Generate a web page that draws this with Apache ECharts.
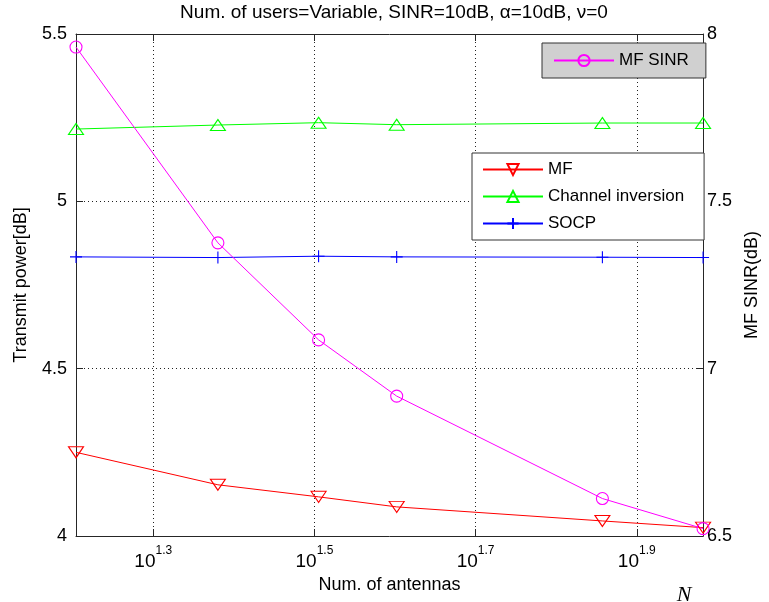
<!DOCTYPE html>
<html>
<head>
<meta charset="utf-8">
<script src="https://cdn.jsdelivr.net/npm/echarts@6/dist/echarts.min.js"></script>
<style>
  html, body { margin: 0; padding: 0; background: #fff; }
  #chart { width: 769px; height: 602px; }
</style>
</head>
<body>
<div id="chart"></div>
<script>
// Number of antennas at which each scheme was evaluated
const antennas = [16, 24, 32, 40, 72, 96];

// Transmit power [dB] for each precoding scheme (left axis)
const mfPower = [4.25, 4.153, 4.117, 4.087, 4.045, 4.025];
const channelInversionPower = [5.216, 5.228, 5.235, 5.229, 5.234, 5.234];
const socpPower = [4.834, 4.832, 4.836, 4.834, 4.833, 4.832];

// Achieved MF SINR [dB] (right axis)
const mfSinr = [7.961, 7.376, 7.086, 6.918, 6.612, 6.522];

// Axis ranges and tick positions (x ticks given as powers of ten)
const xRange = [16, 96];
const xTickExponents = [1.3, 1.5, 1.7, 1.9];
const powerRange = [4, 5.5];
const sinrRange = [6.5, 8];
const yStep = 0.5;

const FONT = 'Liberation Sans, Arial, sans-serif';
const INK = '#262626';

const pairs = (ys) => antennas.map((n, i) => [n, ys[i]]);

const chart = echarts.init(document.getElementById('chart'), null, { renderer: 'canvas' });

const logMin = Math.log10(xRange[0]);
const logMax = Math.log10(xRange[1]);

function hollowLine(name, color, values, symbol, size, yAxisIndex, rotate) {
  return {
    name: name,
    type: 'line',
    xAxisIndex: 0,
    yAxisIndex: yAxisIndex,
    data: pairs(values),
    symbol: symbol,
    symbolSize: size,
    symbolRotate: rotate || 0,
    showAllSymbol: true,
    clip: false,
    lineStyle: { color: color, width: 1 },
    itemStyle: { color: 'rgba(0,0,0,0)', borderColor: color, borderWidth: 1.1 },
    emphasis: { disabled: true },
    z: 3
  };
}

const option = {
  animation: false,
  backgroundColor: '#fff',
  textStyle: { fontFamily: FONT, color: '#000' },
  grid: { left: 76, right: 55, top: 34, bottom: 66 },
  graphic: [
    {
      type: 'text',
      x: 394, y: 13,
      style: {
        text: 'Num. of users=Variable, SINR=10dB, α=10dB, ν=0',
        font: '19px ' + FONT,
        fill: '#000',
        align: 'center',
        verticalAlign: 'middle'
      }
    },
    {
      type: 'text',
      x: 684, y: 595,
      style: {
        text: 'N',
        font: 'italic 22px "Liberation Serif", "DejaVu Serif", serif',
        fill: '#000',
        align: 'center',
        verticalAlign: 'middle'
      }
    }
  ],
  legend: [
    {
      data: ['MF SINR'],
      left: 542, top: 43,
      orient: 'vertical',
      padding: [9, 17, 9, 11],
      backgroundColor: '#d0d0d0',
      borderColor: '#333',
      borderWidth: 1,
      itemWidth: 60, itemHeight: 14,
      textStyle: { fontFamily: FONT, fontSize: 17, color: '#000', lineHeight: 17 },
      selectedMode: false
    },
    {
      data: ['MF', 'Channel inversion', 'SOCP'],
      left: 472, top: 153,
      orient: 'vertical',
      padding: [8, 20, 8, 10],
      itemGap: 10,
      backgroundColor: '#fff',
      borderColor: '#333',
      borderWidth: 1,
      itemWidth: 60, itemHeight: 14,
      textStyle: { fontFamily: FONT, fontSize: 17, color: '#000', lineHeight: 17 },
      selectedMode: false
    }
  ],
  xAxis: [
    {
      // logarithmic scale used to place the data
      type: 'log', logBase: 10,
      min: xRange[0], max: xRange[1],
      show: false
    },
    {
      // decade-exponent scale carrying the 10^x tick marks and labels
      type: 'value', position: 'bottom',
      min: logMin, max: logMax,
      axisLine: { show: true, onZero: false, lineStyle: { color: INK, width: 1 } },
      axisTick: { show: true, inside: true, length: 7, customValues: xTickExponents, lineStyle: { color: INK } },
      axisLabel: {
        customValues: xTickExponents,
        margin: 9,
        formatter: (v) => '{b|10}{s|' + Number(v).toFixed(1) + '}',
        rich: {
          b: { fontFamily: FONT, fontSize: 19, lineHeight: 26, verticalAlign: 'bottom', color: '#000' },
          s: { fontFamily: FONT, fontSize: 12, lineHeight: 12, verticalAlign: 'top', color: '#000' }
        }
      },
      splitLine: { show: true, lineStyle: { type: [1, 3], color: '#222', width: 1 } },
      name: 'Num. of antennas',
      nameLocation: 'middle',
      nameGap: 38,
      nameTextStyle: { fontFamily: FONT, fontSize: 18, color: '#000' }
    },
    {
      type: 'value', position: 'top',
      min: logMin, max: logMax,
      axisLine: { show: true, onZero: false, lineStyle: { color: INK, width: 1 } },
      axisTick: { show: true, inside: true, length: 7, customValues: xTickExponents, lineStyle: { color: INK } },
      axisLabel: { show: false },
      splitLine: { show: false }
    }
  ],
  yAxis: [
    {
      type: 'value', position: 'left',
      min: powerRange[0], max: powerRange[1], interval: yStep,
      axisLine: { show: true, onZero: false, lineStyle: { color: INK, width: 1 } },
      axisTick: { show: true, inside: true, length: 7, lineStyle: { color: INK } },
      axisLabel: { margin: 9, fontFamily: FONT, fontSize: 18, color: '#000' },
      splitLine: { show: true, lineStyle: { type: [1, 3], color: '#222', width: 1 } },
      name: 'Transmit power[dB]',
      nameLocation: 'middle',
      nameGap: 46,
      nameTextStyle: { fontFamily: FONT, fontSize: 18, color: '#000' }
    },
    {
      type: 'value', position: 'right',
      min: sinrRange[0], max: sinrRange[1], interval: yStep,
      axisLine: { show: true, onZero: false, lineStyle: { color: INK, width: 1 } },
      axisTick: { show: true, inside: true, length: 7, lineStyle: { color: INK } },
      axisLabel: { margin: 4, fontFamily: FONT, fontSize: 18, color: '#000' },
      splitLine: { show: false },
      name: 'MF SINR(dB)',
      nameLocation: 'middle',
      nameGap: 34,
      nameTextStyle: { fontFamily: FONT, fontSize: 18, color: '#000' }
    }
  ],
  series: [
    hollowLine('MF', '#ff0000', mfPower, 'triangle', [15, 11], 0, 180),
    hollowLine('Channel inversion', '#00ff00', channelInversionPower, 'triangle', [15, 11], 0, 0),
    hollowLine('SOCP', '#0000ff', socpPower, 'path://M5,0L5,10M0,5L10,5', 12, 0, 0),
    hollowLine('MF SINR', '#ff00ff', mfSinr, 'circle', 12, 1, 0)
  ]
};

chart.setOption(option);
</script>
</body>
</html>
